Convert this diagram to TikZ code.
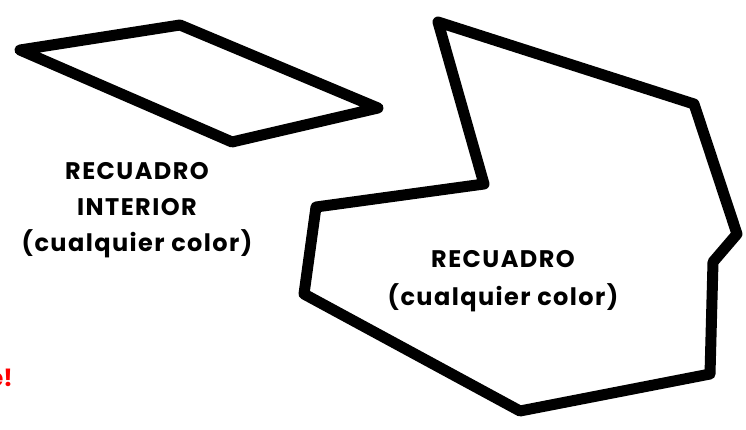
\documentclass[tikz,border=0pt]{standalone}
\usepackage{fontspec}
\setmainfont{Poppins}
\begin{document}
\begin{tikzpicture}[x=1pt,y=-1pt,
  outline/.style={line width=11pt, line join=round, line cap=round, draw=black},
  lbl/.style={font=\bfseries\fontsize{24}{36}\selectfont\addfontfeatures{LetterSpace=6}, align=center, inner sep=0pt}]
\useasboundingbox (0,0) rectangle (746,429);
% inner parallelogram
\coordinate (p1) at (20,50);
\coordinate (p2) at (180,25);
\coordinate (p3) at (378,108);
\coordinate (p4) at (232,142);
\draw[outline] (p1) -- (p2) -- (p3) -- (p4) -- cycle;
% outer polygon
\coordinate (q1) at (438,22);
\coordinate (q2) at (694,104);
\coordinate (q3) at (737,234);
\coordinate (q4) at (713,262);
\coordinate (q5) at (710,374);
\coordinate (q6) at (520,411);
\coordinate (q7) at (304,294);
\coordinate (q8) at (316,207);
\coordinate (q9) at (484,184);
\draw[outline] (q1) -- (q2) -- (q3) -- (q4) -- (q5) -- (q6) -- (q7) -- (q8) -- (q9) -- cycle;
% labels
\node[lbl] (inner) at (137,210) {RECUADRO\\INTERIOR\\(cualquier color)};
\node[lbl, font=\bfseries\fontsize{24}{38}\selectfont\addfontfeatures{LetterSpace=6}] (outer) at (503,281) {RECUADRO\\(cualquier color)};
\node[anchor=east, inner sep=0pt, text=red, font=\bfseries\fontsize{24}{26}\selectfont] (ex) at (13,378) {e!};
\end{tikzpicture}
\end{document}
